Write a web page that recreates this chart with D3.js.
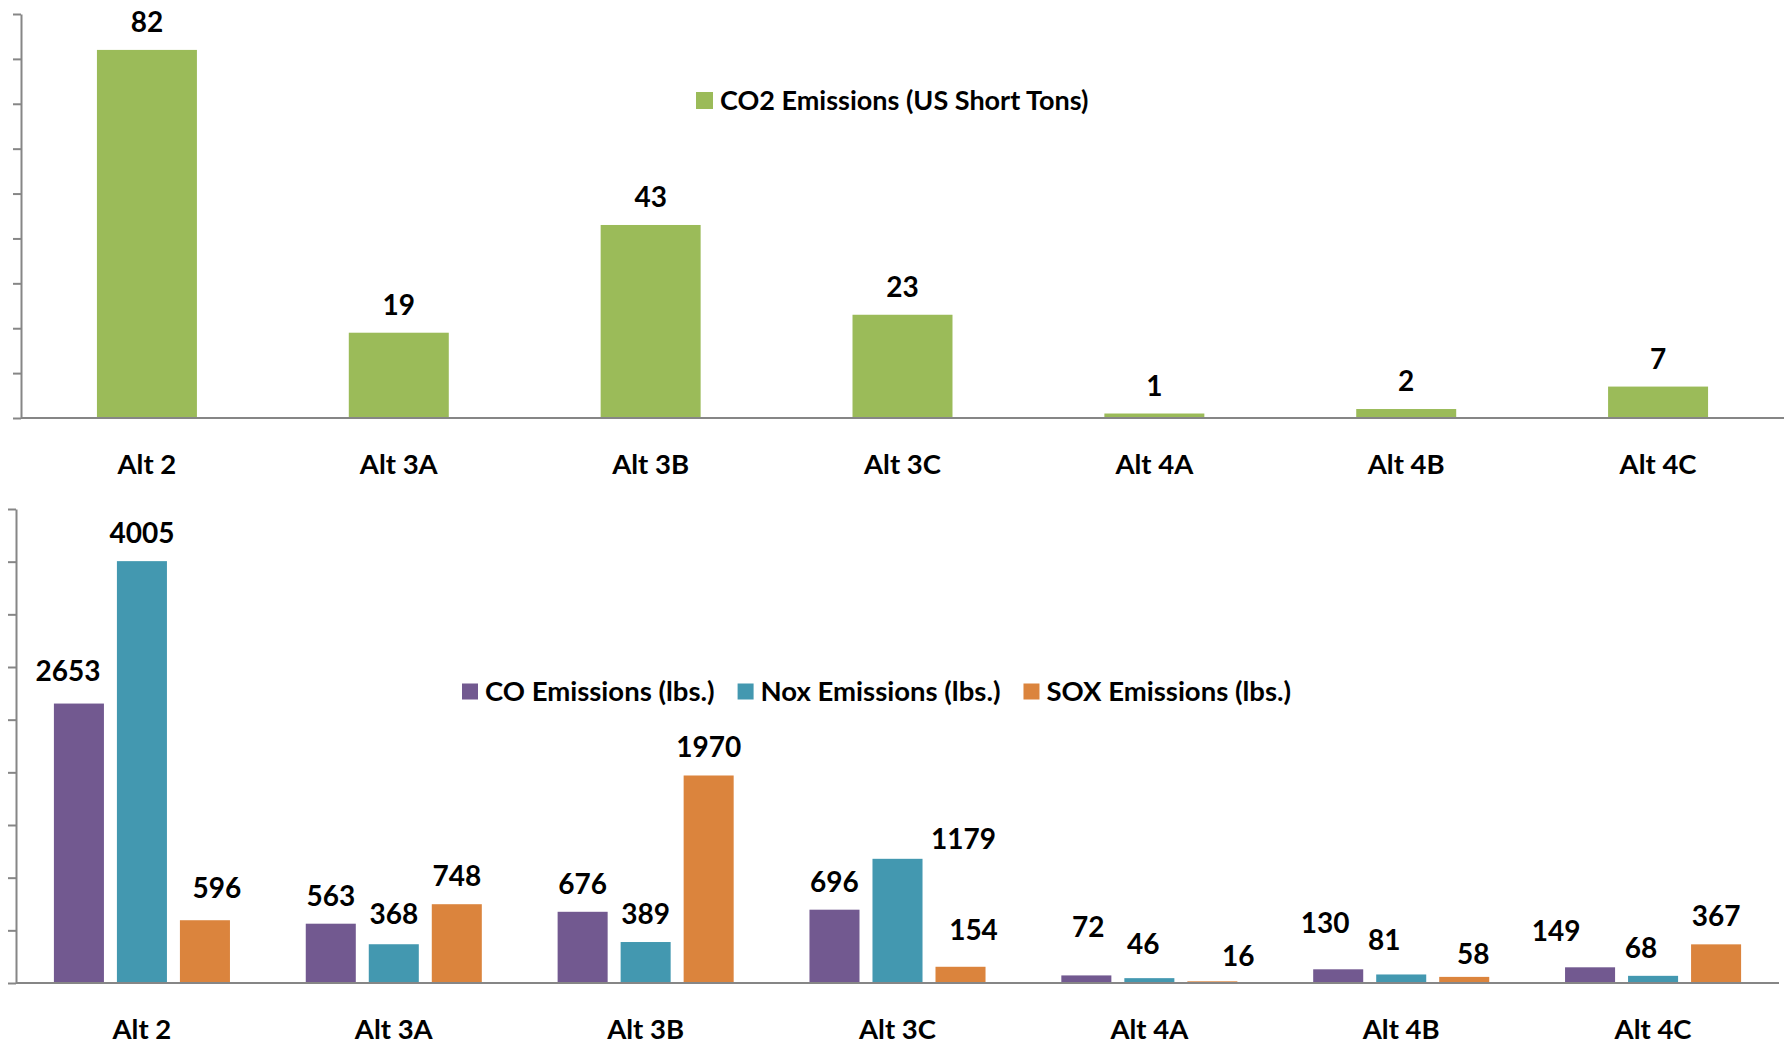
<!DOCTYPE html>
<html>
<head>
<meta charset="utf-8">
<script src="https://cdn.jsdelivr.net/npm/d3@7"></script>
<style>
  html, body { margin: 0; padding: 0; background: #ffffff; }
  svg { display: block; }
  text { font-family: Lato, "Open Sans", sans-serif; font-weight: 700; fill: #000; }
</style>
</head>
<body>
<svg id="chart" width="1792" height="1046"></svg>
<script>
// Emissions by alternative
const alternatives = ["Alt 2", "Alt 3A", "Alt 3B", "Alt 3C", "Alt 4A", "Alt 4B", "Alt 4C"];
const co2Tons = [82, 19, 43, 23, 1, 2, 7];
const coLbs  = [2653, 563, 676, 696, 72, 130, 149];
const noxLbs = [4005, 368, 389, 1179, 46, 81, 68];
const soxLbs = [596, 748, 1970, 154, 16, 58, 367];

const co2Ticks = [0, 10, 20, 30, 40, 50, 60, 70, 80, 90];
const lbsTicks = [0, 500, 1000, 1500, 2000, 2500, 3000, 3500, 4000, 4500];

const co2Name = "CO2 Emissions (US Short Tons)";
const lbsNames = ["CO Emissions (lbs.)", "Nox Emissions (lbs.)", "SOX Emissions (lbs.)"];

// hand-moved data labels (dx, dy) per series, per alternative
const coLabelShift  = [[-11, -5], [0, 0], [0, 0], [0, 0], [2, -20], [-13, -18], [-34, -8]];
const noxLabelShift = [[0, 0], [0, -2], [0, 0], [66, 8], [-6, -6], [-17, -6], [-12, 0]];
const soxLabelShift = [[12, -4], [0, 0], [0, 0], [13, -9], [26, 3], [9, 5], [0, 0]];

const green = "#9bbb59";
const seriesColors = ["#725990", "#4398b0", "#db843d"];
const axisColor = "#868686";

const svg = d3.select("#chart");

function styleAxis(g) {
  g.selectAll("path, line").attr("stroke", axisColor).attr("stroke-width", 2);
}

// ---------- CO2 panel ----------
const co2Panel = { left: 21, right: 1784, y0: 418, y1: 14 };
const xTop = d3.scaleBand().domain(alternatives).range([co2Panel.left, co2Panel.right])
  .paddingInner(0.603).paddingOuter(0.3015);
const yTop = d3.scaleLinear().domain([0, 90]).range([co2Panel.y0, co2Panel.y1]);

const gTop = svg.append("g");

gTop.selectAll("rect.co2").data(co2Tons).join("rect")
  .attr("class", "co2")
  .attr("x", (d, i) => xTop(alternatives[i]))
  .attr("y", d => yTop(d))
  .attr("width", xTop.bandwidth())
  .attr("height", d => yTop(0) - yTop(d))
  .attr("fill", green);

gTop.append("g").attr("transform", `translate(${co2Panel.left},0)`)
  .call(d3.axisLeft(yTop).tickValues(co2Ticks).tickSize(8).tickSizeOuter(0).tickFormat(""))
  .call(styleAxis);

gTop.append("g").attr("transform", `translate(0,${co2Panel.y0})`)
  .call(d3.axisBottom(xTop).tickSize(0).tickSizeOuter(0).tickPadding(0))
  .call(styleAxis)
  .call(g => g.select(".domain").attr("d", `M${co2Panel.left},0H${co2Panel.right}`))
  .call(g => g.selectAll("text").attr("y", 56).attr("dy", 0)
    .style("font-family", "Lato, sans-serif").style("font-weight", 700)
    .style("font-size", "27.5px").attr("fill", "#000"));

gTop.selectAll("text.val").data(co2Tons).join("text")
  .attr("class", "val")
  .attr("x", (d, i) => xTop(alternatives[i]) + xTop.bandwidth() / 2)
  .attr("y", d => yTop(d) - 18)
  .attr("text-anchor", "middle")
  .style("font-size", "28px")
  .text(d => d);

// legend
const legTop = gTop.append("g").attr("transform", "translate(696,100.5)");
legTop.append("rect").attr("x", 0).attr("y", -8.5).attr("width", 17).attr("height", 17).attr("fill", green);
legTop.append("text").attr("x", 24).attr("y", 9).style("font-size", "27px").text(co2Name);

// ---------- CO / NOx / SOx panel ----------
const lbsPanel = { left: 16, right: 1779, y0: 983, y1: 509 };
const x0 = d3.scaleBand().domain(alternatives).range([lbsPanel.left, lbsPanel.right]).padding(0);
const groupWidth = x0.step() * 0.699;
const x1 = d3.scaleBand().domain([0, 1, 2]).range([0, groupWidth]).paddingInner(0.206).paddingOuter(0);
const yBot = d3.scaleLinear().domain([0, 4500]).range([lbsPanel.y0, lbsPanel.y1]);
const groupStart = alt => x0(alt) + (x0.bandwidth() - groupWidth) / 2;

const gBot = svg.append("g");
const series = [coLbs, noxLbs, soxLbs];
const shifts = [coLabelShift, noxLabelShift, soxLabelShift];

series.forEach((vals, s) => {
  gBot.selectAll(`rect.s${s}`).data(vals).join("rect")
    .attr("class", `s${s}`)
    .attr("x", (d, i) => groupStart(alternatives[i]) + x1(s))
    .attr("y", d => yBot(d))
    .attr("width", x1.bandwidth())
    .attr("height", d => yBot(0) - yBot(d))
    .attr("fill", seriesColors[s]);
});

gBot.append("g").attr("transform", `translate(${lbsPanel.left},0)`)
  .call(d3.axisLeft(yBot).tickValues(lbsTicks).tickSize(8).tickSizeOuter(0).tickFormat(""))
  .call(styleAxis);

gBot.append("g").attr("transform", `translate(0,${lbsPanel.y0})`)
  .call(d3.axisBottom(x0).tickSize(0).tickSizeOuter(0).tickPadding(0))
  .call(styleAxis)
  .call(g => g.select(".domain").attr("d", `M${lbsPanel.left},0H${lbsPanel.right}`))
  .call(g => g.selectAll("text").attr("y", 56).attr("dy", 0)
    .style("font-family", "Lato, sans-serif").style("font-weight", 700)
    .style("font-size", "27.5px").attr("fill", "#000"));

series.forEach((vals, s) => {
  gBot.selectAll(`text.v${s}`).data(vals).join("text")
    .attr("class", `v${s}`)
    .attr("x", (d, i) => groupStart(alternatives[i]) + x1(s) + x1.bandwidth() / 2 + shifts[s][i][0])
    .attr("y", (d, i) => yBot(d) - 18 + shifts[s][i][1])
    .attr("text-anchor", "middle")
    .style("font-size", "28px")
    .text(d => d);
});

// legend
const legBot = gBot.append("g").attr("transform", "translate(462,691.5)");
let lx = 0;
lbsNames.forEach((name, s) => {
  legBot.append("rect").attr("x", lx).attr("y", -8).attr("width", 16).attr("height", 16).attr("fill", seriesColors[s]);
  const t = legBot.append("text").attr("x", lx + 23).attr("y", 9).style("font-size", "27.5px").text(name);
  lx += 23 + t.node().getComputedTextLength() + 23;
});
</script>
</body>
</html>
